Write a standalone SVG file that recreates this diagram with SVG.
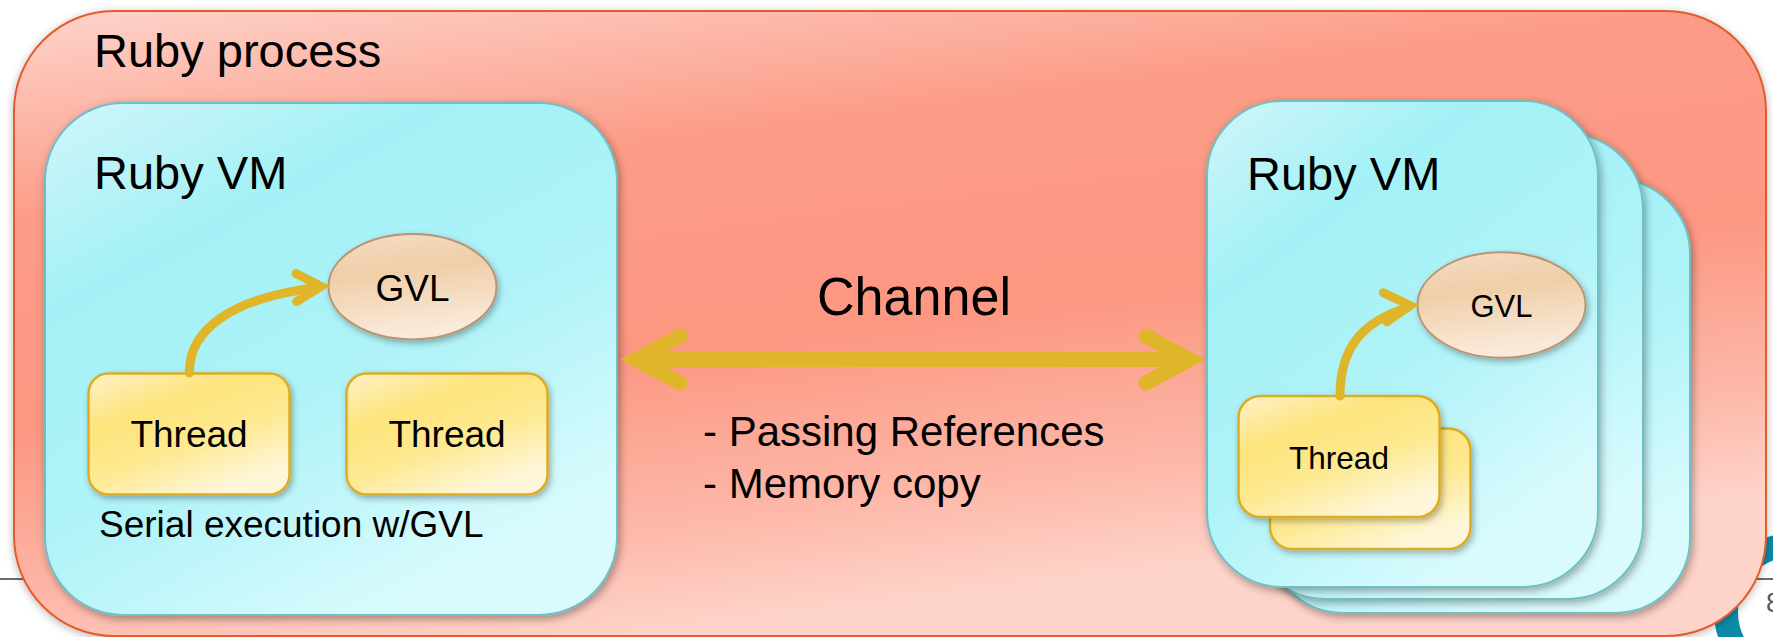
<svg xmlns="http://www.w3.org/2000/svg" width="1773" height="637" viewBox="0 0 1773 637">
<defs>
<linearGradient id="og" x1="0" y1="0" x2="0.35" y2="1">
<stop offset="0" stop-color="#fdd4cc"/>
<stop offset="0.3" stop-color="#fc9c87"/>
<stop offset="0.6" stop-color="#fc9782"/>
<stop offset="0.85" stop-color="#fdb8a9"/>
<stop offset="1" stop-color="#fed3c9"/>
</linearGradient>
<linearGradient id="vg" x1="0" y1="0" x2="0.6" y2="1">
<stop offset="0" stop-color="#d2f5f9"/>
<stop offset="0.3" stop-color="#a3f1f6"/>
<stop offset="0.65" stop-color="#b0f3f8"/>
<stop offset="1" stop-color="#dafbfd"/>
</linearGradient>
<linearGradient id="tg" x1="0" y1="0" x2="0.6" y2="1">
<stop offset="0" stop-color="#fef1c8"/>
<stop offset="0.35" stop-color="#fde47c"/>
<stop offset="0.65" stop-color="#fde990"/>
<stop offset="1" stop-color="#fef6d8"/>
</linearGradient>
<linearGradient id="gg" x1="0" y1="0" x2="0.2" y2="1">
<stop offset="0" stop-color="#f5ddc7"/>
<stop offset="0.4" stop-color="#efcea8"/>
<stop offset="1" stop-color="#faeadb"/>
</linearGradient>
<filter id="sho" x="-5%" y="-5%" width="110%" height="115%">
<feDropShadow dx="0" dy="2" stdDeviation="4" flood-color="#000" flood-opacity="0.28"/>
</filter>
<filter id="sh" x="-10%" y="-10%" width="125%" height="125%">
<feDropShadow dx="2" dy="3" stdDeviation="4" flood-color="#000" flood-opacity="0.35"/>
</filter>
<filter id="sh2" x="-15%" y="-15%" width="135%" height="140%">
<feDropShadow dx="2" dy="3" stdDeviation="3" flood-color="#000" flood-opacity="0.3"/>
</filter>
</defs>
<style>
text{font-family:"Liberation Sans",Arial,Helvetica,sans-serif;fill:#000}
.outer{fill:url(#og);stroke:#e35b2c;stroke-width:2;filter:url(#sho)}
.vm{fill:url(#vg);stroke:#6fbfc3;stroke-width:2;filter:url(#sh)}
.th{fill:url(#tg);stroke:#dcac22;stroke-width:2.5;filter:url(#sh2)}
.gvl{fill:url(#gg);stroke:#b89470;stroke-width:2;filter:url(#sh2)}
.arr{fill:none;stroke:#dfb52a;stroke-linecap:round}
.big{font-size:47px}
.mid{font-size:42px}
</style>
<rect width="1773" height="637" fill="#ffffff"/>
<g id="slide-decor">
<circle cx="1793" cy="612" r="67" fill="#ffffff" stroke="#0b8aa8" stroke-width="24"/>
<line x1="0" y1="579" x2="1773" y2="579" stroke="#6b6b6b" stroke-width="2"/>
<text x="1766" y="612" style="font-size:27px;fill:#595959">8</text>
</g>
<g id="ruby-process">
<rect class="outer" x="14" y="11" width="1752" height="625" rx="100" ry="100"/>
<text class="big" x="94" y="67">Ruby process</text>
</g>
<g id="ruby-vm-left">
<rect class="vm" x="45" y="103" width="572" height="512" rx="78" ry="78"/>
<text class="big" x="94" y="189">Ruby VM</text>
<text x="99" y="537" style="font-size:37px">Serial execution w/GVL</text>
</g>
<g id="gvl-left">
<ellipse class="gvl" cx="412.5" cy="286.7" rx="84" ry="52.7"/>
<text x="412.5" y="300.5" text-anchor="middle" style="font-size:37px">GVL</text>
</g>
<g id="thread-left-1">
<rect class="th" x="88.5" y="373.5" width="201" height="121" rx="20" ry="20"/>
<text x="189" y="447" text-anchor="middle" style="font-size:37px">Thread</text>
</g>
<g id="thread-left-2">
<rect class="th" x="346.5" y="373.5" width="201" height="121" rx="20" ry="20"/>
<text x="447" y="447" text-anchor="middle" style="font-size:37px">Thread</text>
</g>
<g id="ruby-vm-right">
<rect class="vm" x="1268" y="179" width="422" height="434" rx="75" ry="75"/>
<rect class="vm" x="1250" y="134" width="393" height="465" rx="75" ry="75"/>
<rect class="vm" x="1207" y="101" width="391" height="486" rx="75" ry="75"/>
<text class="big" x="1247" y="190">Ruby VM</text>
</g>
<g id="gvl-right">
<ellipse class="gvl" cx="1501.5" cy="305" rx="84" ry="52.7"/>
<text x="1501.5" y="316.7" text-anchor="middle" style="font-size:31px">GVL</text>
</g>
<g id="thread-right">
<rect class="th" x="1270" y="428.5" width="200.5" height="120.5" rx="22" ry="22"/>
<rect class="th" x="1238.5" y="396" width="201" height="121" rx="22" ry="22"/>
<text x="1339" y="469" text-anchor="middle" style="font-size:31.5px">Thread</text>
</g>
<g id="channel-label">
<text x="817" y="315" style="font-size:53px" textLength="194" lengthAdjust="spacingAndGlyphs">Channel</text>
<text class="mid" x="703" y="446">- Passing References</text>
<text class="mid" x="703" y="498">- Memory copy</text>
</g>
<g id="connectors">
<path class="arr" stroke-width="9" d="M189.3,373 C189,330 230,298 320,287"/>
<path class="arr" stroke-width="9" stroke-linejoin="miter" d="M296,273.5 L321,286.3 L296.7,301.5"/>
<path class="arr" stroke-width="9" d="M1340,396 C1340,350 1360,322 1408,307.5"/>
<path class="arr" stroke-width="9" stroke-linejoin="miter" d="M1383.3,292.7 L1410,305.5 L1386.7,321.7"/>
<line x1="636" y1="359.5" x2="1190" y2="359.5" stroke="#dfb52a" stroke-width="15"/>
<path class="arr" stroke-width="15" stroke-linejoin="miter" d="M680,336 L636.5,359.5 L680,383"/>
<path class="arr" stroke-width="15" stroke-linejoin="miter" d="M1146,336 L1189.5,359.5 L1146,383"/>
</g>
</svg>
